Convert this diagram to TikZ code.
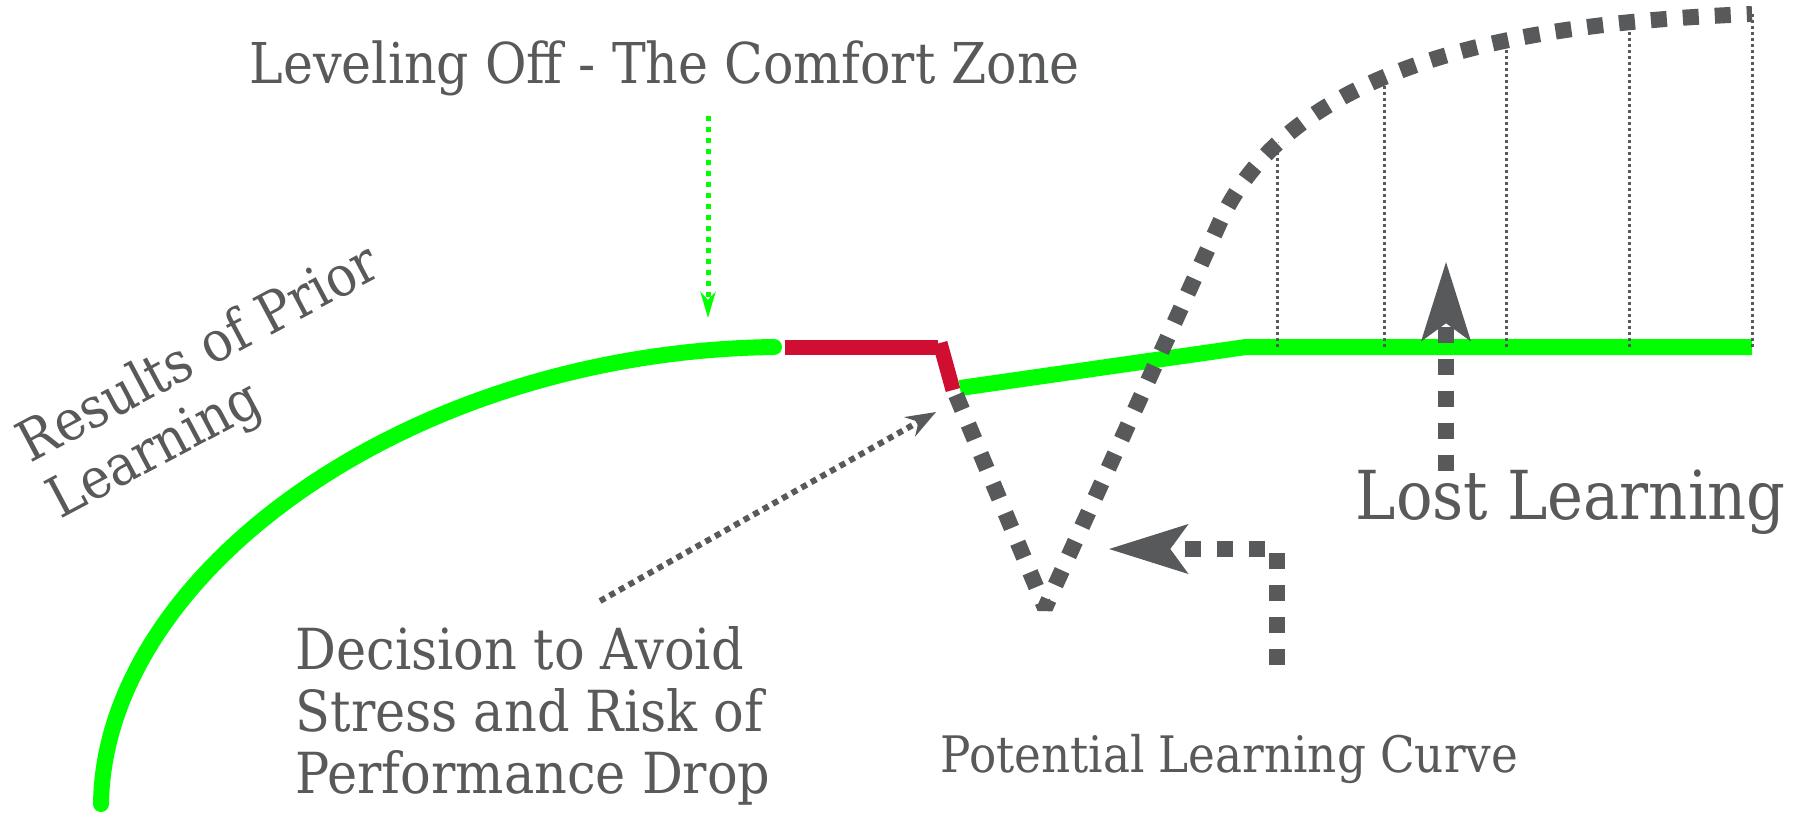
\documentclass[tikz,border=0pt]{standalone}
\usepackage{fontspec}
\setmainfont{DejaVu Serif Condensed}
\usepackage{xcolor}
\usetikzlibrary{arrows.meta, positioning}

\definecolor{curvegreen}{RGB}{0,255,0}
\definecolor{dropred}{RGB}{208,14,50}
\definecolor{inkgray}{RGB}{88,89,91}

\begin{document}
\begin{tikzpicture}[x=0.01cm, y=-0.01cm,
    greenline/.style={draw=curvegreen, line width=0.16cm},
    redline/.style={draw=dropred, line width=0.15cm},
    bigdots/.style={draw=inkgray, line width=0.16cm, dash pattern=on 0.16cm off 0.16cm},
    hairdots/.style={draw=inkgray, line width=0.03cm, dash pattern=on 0.03cm off 0.03cm},
    bighead/.style={-{Stealth[length=7.8mm, width=4.7mm, inset=1.6mm]}},
    textlabel/.style={text=inkgray, inner sep=0pt, anchor=base west}]
  \useasboundingbox (0,0) rectangle (1801,812);

  % Prior learning and the comfort zone
  \draw[greenline, line cap=round] (101,804) .. controls (104,575) and (405,352) .. (774,347);
  \draw[redline] (785,347) -- (938,347);
  \draw[redline] (940,343) -- (953,390);
  \draw[greenline] (960,388) -- (1246,347) -- (1752,347);

  % Potential learning curve
  \draw[bigdots, line join=bevel] (956,395) -- (1045,608) -- (1220,222)
    .. controls (1299,49) and (1560,22) .. (1752,14);

  % Lost learning gap
  \begin{scope}
    \clip (1220,222) .. controls (1299,49) and (1560,22) .. (1752,14)
      -- (1770,14) -- (1770,360) -- (1220,360) -- cycle;
    \foreach \x in {1277,1384,1506,1629,1752}
      \draw[hairdots] (\x,347) -- (\x,0);
  \end{scope}

  % Labels (multi-line nodes sit on their last baseline)
  \node[textlabel, font={\fontsize{16}{18}\selectfont}] (comfort) at (249,83)
    {Leveling Off - The Comfort Zone};
  \node[textlabel, rotate=28, align=left, font={\fontsize{16}{18.2}\selectfont}] (prior) at (60,520)
    {Results of Prior\\Learning};
  \node[textlabel, align=left, font={\fontsize{16.1}{17.6}\selectfont}] (decision) at (295,793)
    {Decision to Avoid\\Stress and Risk of\\Performance Drop};
  \node[textlabel, font={\fontsize{14.3}{16}\selectfont}] (potential) at (940,772)
    {Potential Learning Curve};
  \node[textlabel, font={\fontsize{19.2}{22}\selectfont}] (lost) at (1355,519)
    {Lost Learning};

  % Arrows
  \coordinate (comforttail) at (708,116);
  \coordinate (comforttip) at (708,318);
  \coordinate (decisiontail) at (600,601);
  \coordinate (decisiontip) at (936,412);
  \coordinate (losttail) at (1446,471);
  \coordinate (losttip) at (1446,261);
  \coordinate (potentialtail) at (1277,665);
  \coordinate (potentialbend) at (1277,549);
  \coordinate (potentialtip) at (1108,549);

  \draw[draw=curvegreen, line width=0.05cm, dash pattern=on 0.05cm off 0.06cm,
    -{Stealth[length=2.6mm, width=1.5mm, inset=0.8mm]}] (comforttail) -- (comforttip);
  \draw[draw=inkgray, line width=0.06cm, dash pattern=on 0.06cm off 0.05cm,
    -{Stealth[length=3mm, width=2.2mm, inset=1mm]}] (decisiontail) -- (decisiontip);
  \draw[bigdots, bighead] (losttail) -- (losttip);
  \draw[bigdots, bighead] (potentialtail) -- (potentialbend) -- (potentialtip);
\end{tikzpicture}
\end{document}
